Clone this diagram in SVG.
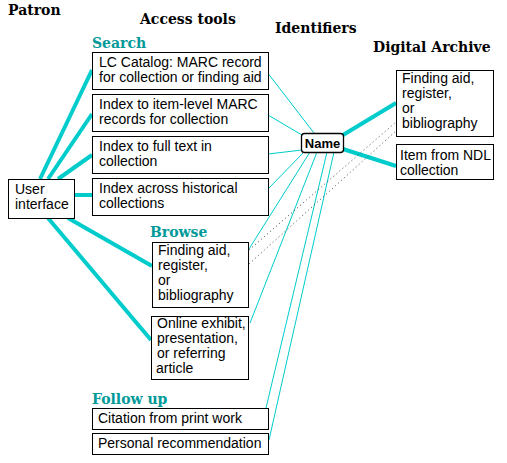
<svg xmlns="http://www.w3.org/2000/svg" width="507" height="463" viewBox="0 0 507 463">
<style>
.h{font-family:"DejaVu Serif",serif;font-weight:bold;font-size:14px;fill:#000}
.t{fill:#009999}
.b{fill:#fff;stroke:#000;stroke-width:1}
.x{font-family:"Liberation Sans",Arial,sans-serif;font-size:14px;fill:#000}
.thick{stroke:#00cccc;stroke-width:4;fill:none}
.thin{stroke:#00cccc;stroke-width:1;fill:none}
.dot{stroke:#444;stroke-width:1;stroke-dasharray:1 3;fill:none}
</style>
<rect width="507" height="463" fill="#fff"/>
<text class="h" x="8" y="15">Patron</text>
<text class="h" x="140" y="24">Access tools</text>
<text class="h" x="275" y="33">Identifiers</text>
<text class="h" x="373" y="52">Digital Archive</text>
<text class="h t" x="92" y="48">Search</text>
<text class="h t" x="150" y="237">Browse</text>
<text class="h t" x="92" y="404">Follow up</text>
<g id="connectors">
<line class="thick" x1="40" y1="179" x2="92" y2="70"/>
<line class="thick" x1="48" y1="179" x2="92" y2="114"/>
<line class="thick" x1="58" y1="179" x2="92" y2="155"/>
<line class="thick" x1="74" y1="195" x2="92" y2="195"/>
<line class="thick" x1="68" y1="218" x2="152" y2="266"/>
<line class="thick" x1="48" y1="218" x2="151" y2="340"/>
<line class="thick" x1="343" y1="135" x2="396" y2="103"/>
<line class="thick" x1="343" y1="149" x2="396" y2="166"/>
<line class="thin" x1="267" y1="72" x2="314" y2="133"/>
<line class="thin" x1="268" y1="115" x2="302" y2="135"/>
<line class="thin" x1="268" y1="154" x2="302" y2="150"/>
<line class="thin" x1="268" y1="189" x2="304" y2="152"/>
<line class="thin" x1="249" y1="249" x2="310" y2="152"/>
<line class="thin" x1="250" y1="323" x2="317" y2="152"/>
<line class="thin" x1="266" y1="408" x2="327" y2="152"/>
<line class="thin" x1="269" y1="440" x2="334" y2="152"/>
<line class="dot" x1="249" y1="250" x2="396" y2="122"/>
<line class="dot" x1="249" y1="264" x2="396" y2="131"/>
</g>
<g id="ui"><rect class="b" x="8.5" y="179.5" width="66" height="39"/><text class="x" x="15" y="194">User</text><text class="x" x="15" y="209">interface</text></g>
<g id="lc"><rect class="b" x="92.5" y="52.5" width="176" height="37"/><text class="x" x="99" y="67">LC Catalog: MARC record</text><text class="x" x="99" y="82">for collection or finding aid</text></g>
<g id="item"><rect class="b" x="92.5" y="94.5" width="176" height="37"/><text class="x" x="99" y="109">Index to item-level MARC</text><text class="x" x="99" y="124">records for collection</text></g>
<g id="full"><rect class="b" x="92.5" y="136.5" width="176" height="37"/><text class="x" x="99" y="151">Index to full text in</text><text class="x" x="99" y="166">collection</text></g>
<g id="hist"><rect class="b" x="92.5" y="178.5" width="176" height="37"/><text class="x" x="99" y="193">Index across historical</text><text class="x" x="99" y="208">collections</text></g>
<g id="browse"><rect class="b" x="152.5" y="242.5" width="96" height="65"/><text class="x" x="158" y="255">Finding aid,</text><text class="x" x="158" y="270">register,</text><text class="x" x="158" y="285">or</text><text class="x" x="158" y="300">bibliography</text></g>
<g id="online"><rect class="b" x="151.5" y="316.5" width="97" height="63"/><text class="x" x="157" y="328">Online exhibit,</text><text class="x" x="157" y="343">presentation,</text><text class="x" x="157" y="358">or referring</text><text class="x" x="156" y="373">article</text></g>
<g id="citation"><rect class="b" x="92.5" y="408.5" width="176" height="21"/><text class="x" x="98" y="423">Citation from print work</text></g>
<g id="personal"><rect class="b" x="92.5" y="433.5" width="176" height="21"/><text class="x" x="98" y="448">Personal recommendation</text></g>
<g id="name"><rect x="301.5" y="133.5" width="42" height="19" rx="3" fill="#fff" stroke="#000" stroke-width="1.3"/><text x="322.5" y="148" text-anchor="middle" font-family="Liberation Sans,Arial,sans-serif" font-weight="bold" font-size="13px">Name</text></g>
<g id="da-finding"><rect class="b" x="396.5" y="70.5" width="97" height="66"/><text class="x" x="402" y="83">Finding aid,</text><text class="x" x="402" y="98">register,</text><text class="x" x="402" y="113">or</text><text class="x" x="402" y="128">bibliography</text></g>
<g id="da-item"><rect class="b" x="396.5" y="144.5" width="97" height="35"/><text class="x" x="400" y="160">Item from NDL</text><text class="x" x="400" y="175">collection</text></g>
</svg>
